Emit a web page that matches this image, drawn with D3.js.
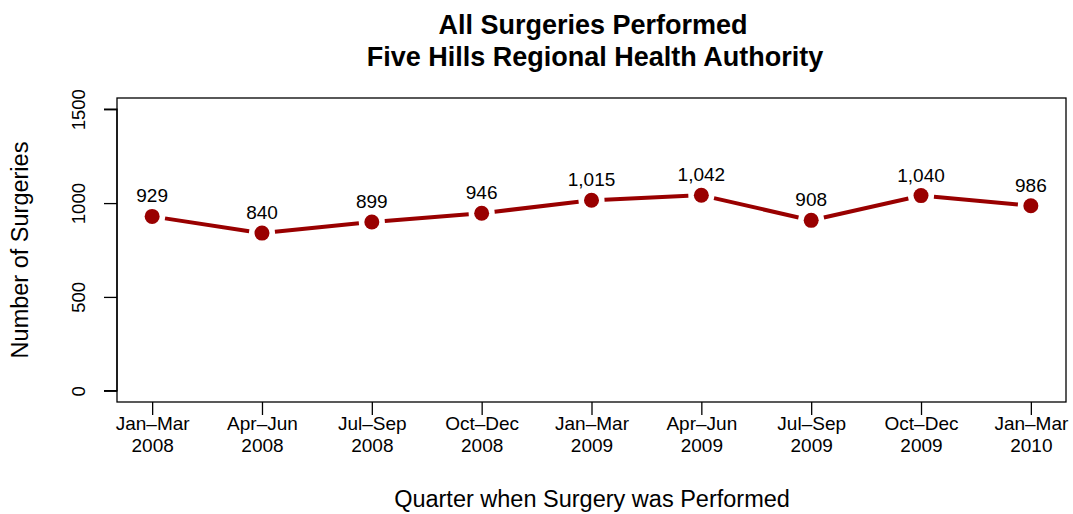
<!DOCTYPE html>
<html>
<head>
<meta charset="utf-8">
<script src="https://cdn.jsdelivr.net/npm/d3@7"></script>
<style>
  body { margin: 0; background: #fff; }
  svg text { font-family: "Liberation Sans", Arial, Helvetica, sans-serif; fill: #000; }
</style>
</head>
<body>
<svg id="chart" width="1073" height="514"></svg>
<script>
const quarters = ['Jan\u2013Mar', 'Apr\u2013Jun', 'Jul\u2013Sep', 'Oct\u2013Dec', 'Jan\u2013Mar', 'Apr\u2013Jun', 'Jul\u2013Sep', 'Oct\u2013Dec', 'Jan\u2013Mar'];
const years = ['2008', '2008', '2008', '2008', '2009', '2009', '2009', '2009', '2010'];
const surgeries = [929, 840, 899, 946, 1015, 1042, 908, 1040, 986];
const yTicks = [0, 500, 1000, 1500];

const svg = d3.select('#chart');
const box = { left: 117, right: 1066, top: 98, bottom: 402 };
const red = '#990000';
const fmt = d3.format(',');

// R style: 4% padding around the data range
const x = d3.scaleLinear().domain([0.68, 9.32]).range([box.left, box.right]);
const y = d3.scaleLinear().domain([-60, 1560]).range([box.bottom, box.top]);

const data = surgeries.map((v, i) => ({ i: i + 1, v }));

// titles
svg.append('text').attr('x', 593).attr('y', 34).attr('text-anchor', 'middle')
   .style('font-size', '27px').style('font-weight', 'bold').text('All Surgeries Performed');
svg.append('text').attr('x', 595).attr('y', 66).attr('text-anchor', 'middle')
   .style('font-size', '27px').style('font-weight', 'bold').text('Five Hills Regional Health Authority');

// plot box
svg.append('rect').attr('x', box.left).attr('y', box.top)
   .attr('width', box.right - box.left).attr('height', box.bottom - box.top)
   .attr('fill', 'none').attr('stroke', '#000').attr('stroke-width', 1.3);

// y axis
const yAxis = d3.axisLeft(y).tickValues(yTicks).tickSize(13).tickFormat(d3.format('d'));
const gy = svg.append('g').attr('transform', `translate(${box.left},0)`).call(yAxis);
gy.select('.domain').attr('d', `M${-13},${y(0)}H0V${y(1500)}H${-13}`).attr('stroke-width', 1.3);
gy.selectAll('.tick line').attr('stroke-width', 1.3);
gy.selectAll('.tick text')
  .attr('x', 0).attr('y', 0).attr('dy', null)
  .attr('transform', 'translate(-39,0) rotate(-90)')
  .attr('text-anchor', 'middle').attr('dominant-baseline', 'central')
  .style('font-size', '18.5px');

// x axis
const xAxis = d3.axisBottom(x).tickValues(d3.range(1, 10)).tickSize(13).tickFormat('');
const gx = svg.append('g').attr('transform', `translate(0,${box.bottom})`).call(xAxis);
gx.select('.domain').remove();
gx.selectAll('.tick line').attr('stroke-width', 1.3);
gx.selectAll('.tick').each(function (d) {
  const t = d3.select(this);
  t.append('text').attr('y', 28).attr('text-anchor', 'middle').style('font-size', '19px').text(quarters[d - 1]);
  t.append('text').attr('y', 50).attr('text-anchor', 'middle').style('font-size', '19px').text(years[d - 1]);
});

// axis titles
svg.append('text').attr('x', 592).attr('y', 507).attr('text-anchor', 'middle')
   .style('font-size', '23.5px').text('Quarter when Surgery was Performed');
svg.append('text').attr('transform', `translate(28,${(box.top + box.bottom) / 2}) rotate(-90)`)
   .attr('text-anchor', 'middle').style('font-size', '23.5px').text('Number of Surgeries');

// line segments with gaps around points (type = "b")
const gap = 13;
const segs = d3.pairs(data).map(([a, b]) => {
  const x1 = x(a.i), y1 = y(a.v), x2 = x(b.i), y2 = y(b.v);
  const len = Math.hypot(x2 - x1, y2 - y1);
  const ux = (x2 - x1) / len, uy = (y2 - y1) / len;
  return [x1 + ux * gap, y1 + uy * gap, x2 - ux * gap, y2 - uy * gap];
});
svg.append('g').selectAll('line').data(segs).join('line')
   .attr('x1', d => d[0]).attr('y1', d => d[1]).attr('x2', d => d[2]).attr('y2', d => d[3])
   .attr('stroke', red).attr('stroke-width', 4);

svg.append('g').selectAll('circle').data(data).join('circle')
   .attr('cx', d => x(d.i)).attr('cy', d => y(d.v)).attr('r', 7.5).attr('fill', red);

svg.append('g').selectAll('text').data(data).join('text')
   .attr('x', d => x(d.i)).attr('y', d => y(d.v) - 14)
   .attr('text-anchor', 'middle').style('font-size', '19px')
   .text(d => fmt(d.v));
</script>
</body>
</html>
